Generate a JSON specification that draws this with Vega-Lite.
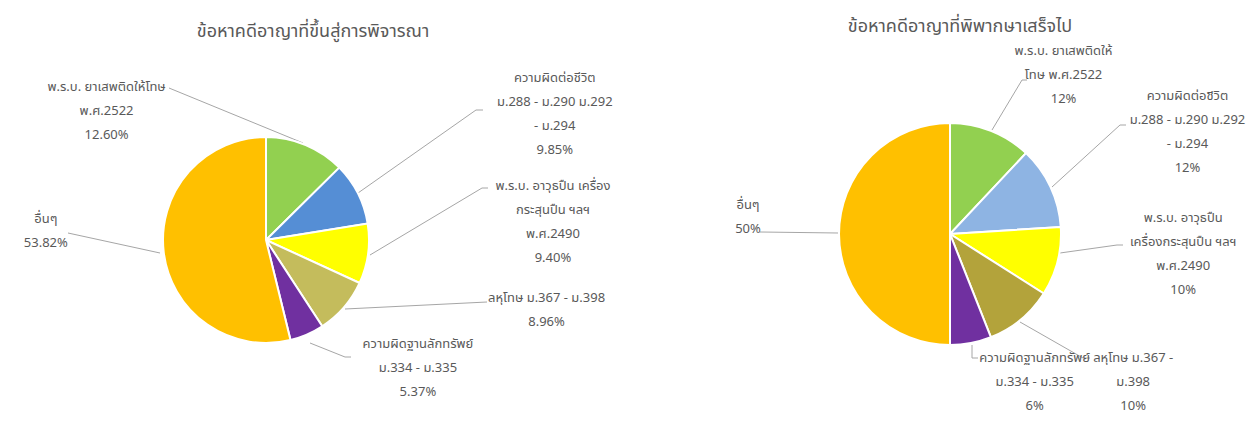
{
  "$schema": "https://vega.github.io/schema/vega-lite/v6.json",
  "width": 1258,
  "height": 421,
  "autosize": {"type": "none"},
  "padding": 0,
  "background": "#ffffff",
  "config": {
    "view": {"stroke": null},
    "text": {"font": "Tahoma, 'Noto Sans Thai', 'Noto Sans', sans-serif", "fontSize": 13, "color": "#595959", "lineBreak": "\n", "lineHeight": 24, "align": "center", "baseline": "middle"},
    "rule": {"color": "#A6A6A6", "strokeWidth": 1}
  },
  "data": {"values": [
    {"chart": "left", "i": 1, "k": "L1", "value": 12.6, "label": "พ.ร.บ. ยาเสพติดให้โทษ\nพ.ศ.2522\n12.60%"},
    {"chart": "left", "i": 2, "k": "L2", "value": 9.85, "label": "ความผิดต่อชีวิต\nม.288 - ม.290 ม.292\n- ม.294\n9.85%"},
    {"chart": "left", "i": 3, "k": "L3", "value": 9.4, "label": "พ.ร.บ. อาวุธปืน เครื่อง\nกระสุนปืน ฯลฯ\nพ.ศ.2490\n9.40%"},
    {"chart": "left", "i": 4, "k": "L4", "value": 8.96, "label": "ลหุโทษ ม.367 - ม.398\n8.96%"},
    {"chart": "left", "i": 5, "k": "L5", "value": 5.37, "label": "ความผิดฐานลักทรัพย์\nม.334 - ม.335\n5.37%"},
    {"chart": "left", "i": 6, "k": "L6", "value": 53.82, "label": "อื่นๆ\n53.82%"},
    {"chart": "right", "i": 1, "k": "R1", "value": 12, "label": "พ.ร.บ. ยาเสพติดให้\nโทษ พ.ศ.2522\n12%"},
    {"chart": "right", "i": 2, "k": "R2", "value": 12, "label": "ความผิดต่อชีวิต\nม.288 - ม.290 ม.292\n- ม.294\n12%"},
    {"chart": "right", "i": 3, "k": "R3", "value": 10, "label": "พ.ร.บ. อาวุธปืน\nเครื่องกระสุนปืน ฯลฯ\nพ.ศ.2490\n10%"},
    {"chart": "right", "i": 4, "k": "R4", "value": 10, "label": "ลหุโทษ ม.367 -\nม.398\n10%"},
    {"chart": "right", "i": 5, "k": "R5", "value": 6, "label": "ความผิดฐานลักทรัพย์\nม.334 - ม.335\n6%"},
    {"chart": "right", "i": 6, "k": "R6", "value": 50, "label": "อื่นๆ\n50%"}
  ]},
  "encoding": {
    "x": {"field": "chart", "type": "nominal", "scale": {"type": "point", "domain": ["left", "right"], "range": [266, 950], "padding": 0}, "axis": null},
    "y": {"field": "chart", "type": "nominal", "scale": {"type": "point", "domain": ["left", "right"], "range": [240, 234], "padding": 0}, "axis": null}
  },
  "layer": [
    {"transform": [{"filter": "datum.k == 'L1'"}], "mark": {"type": "rule", "xOffset": -97, "yOffset": -152, "x2Offset": 37, "y2Offset": -97}, "encoding": {"x2": {"field": "chart"}, "y2": {"field": "chart"}}},
    {"transform": [{"filter": "datum.k == 'L2'"}], "mark": {"type": "rule", "xOffset": 217, "yOffset": -130, "x2Offset": 210, "y2Offset": -130}, "encoding": {"x2": {"field": "chart"}, "y2": {"field": "chart"}}},
    {"transform": [{"filter": "datum.k == 'L2'"}], "mark": {"type": "rule", "xOffset": 210, "yOffset": -130, "x2Offset": 92, "y2Offset": -47}, "encoding": {"x2": {"field": "chart"}, "y2": {"field": "chart"}}},
    {"transform": [{"filter": "datum.k == 'L3'"}], "mark": {"type": "rule", "xOffset": 222, "yOffset": -52, "x2Offset": 216, "y2Offset": -52}, "encoding": {"x2": {"field": "chart"}, "y2": {"field": "chart"}}},
    {"transform": [{"filter": "datum.k == 'L3'"}], "mark": {"type": "rule", "xOffset": 216, "yOffset": -52, "x2Offset": 104, "y2Offset": 15}, "encoding": {"x2": {"field": "chart"}, "y2": {"field": "chart"}}},
    {"transform": [{"filter": "datum.k == 'L4'"}], "mark": {"type": "rule", "xOffset": 221, "yOffset": 62, "x2Offset": 79, "y2Offset": 69}, "encoding": {"x2": {"field": "chart"}, "y2": {"field": "chart"}}},
    {"transform": [{"filter": "datum.k == 'L5'"}], "mark": {"type": "rule", "xOffset": 44, "yOffset": 103, "x2Offset": 79, "y2Offset": 117}, "encoding": {"x2": {"field": "chart"}, "y2": {"field": "chart"}}},
    {"transform": [{"filter": "datum.k == 'L5'"}], "mark": {"type": "rule", "xOffset": 79, "yOffset": 117, "x2Offset": 85, "y2Offset": 117}, "encoding": {"x2": {"field": "chart"}, "y2": {"field": "chart"}}},
    {"transform": [{"filter": "datum.k == 'L6'"}], "mark": {"type": "rule", "xOffset": -198, "yOffset": -7, "x2Offset": -106, "y2Offset": 13}, "encoding": {"x2": {"field": "chart"}, "y2": {"field": "chart"}}},
    {"transform": [{"filter": "datum.k == 'R1'"}], "mark": {"type": "rule", "xOffset": 42, "yOffset": -104, "x2Offset": 72, "y2Offset": -154}, "encoding": {"x2": {"field": "chart"}, "y2": {"field": "chart"}}},
    {"transform": [{"filter": "datum.k == 'R1'"}], "mark": {"type": "rule", "xOffset": 72, "yOffset": -154, "x2Offset": 77, "y2Offset": -154}, "encoding": {"x2": {"field": "chart"}, "y2": {"field": "chart"}}},
    {"transform": [{"filter": "datum.k == 'R2'"}], "mark": {"type": "rule", "xOffset": 102, "yOffset": -47, "x2Offset": 170, "y2Offset": -109}, "encoding": {"x2": {"field": "chart"}, "y2": {"field": "chart"}}},
    {"transform": [{"filter": "datum.k == 'R2'"}], "mark": {"type": "rule", "xOffset": 170, "yOffset": -109, "x2Offset": 176, "y2Offset": -109}, "encoding": {"x2": {"field": "chart"}, "y2": {"field": "chart"}}},
    {"transform": [{"filter": "datum.k == 'R3'"}], "mark": {"type": "rule", "xOffset": 110, "yOffset": 19, "x2Offset": 167, "y2Offset": 11}, "encoding": {"x2": {"field": "chart"}, "y2": {"field": "chart"}}},
    {"transform": [{"filter": "datum.k == 'R3'"}], "mark": {"type": "rule", "xOffset": 167, "yOffset": 11, "x2Offset": 173, "y2Offset": 11}, "encoding": {"x2": {"field": "chart"}, "y2": {"field": "chart"}}},
    {"transform": [{"filter": "datum.k == 'R4'"}], "mark": {"type": "rule", "xOffset": 70, "yOffset": 88, "x2Offset": 133, "y2Offset": 124}, "encoding": {"x2": {"field": "chart"}, "y2": {"field": "chart"}}},
    {"transform": [{"filter": "datum.k == 'R4'"}], "mark": {"type": "rule", "xOffset": 133, "yOffset": 124, "x2Offset": 140, "y2Offset": 124}, "encoding": {"x2": {"field": "chart"}, "y2": {"field": "chart"}}},
    {"transform": [{"filter": "datum.k == 'R5'"}], "mark": {"type": "rule", "xOffset": 22, "yOffset": 111, "x2Offset": 22, "y2Offset": 124}, "encoding": {"x2": {"field": "chart"}, "y2": {"field": "chart"}}},
    {"transform": [{"filter": "datum.k == 'R5'"}], "mark": {"type": "rule", "xOffset": 22, "yOffset": 124, "x2Offset": 28, "y2Offset": 124}, "encoding": {"x2": {"field": "chart"}, "y2": {"field": "chart"}}},
    {"transform": [{"filter": "datum.k == 'R6'"}], "mark": {"type": "rule", "xOffset": -190, "yOffset": -2, "x2Offset": -112, "y2Offset": -1}, "encoding": {"x2": {"field": "chart"}, "y2": {"field": "chart"}}},
    {
      "transform": [{"filter": "datum.chart == 'left'"}],
      "encoding": {
        "theta": {"field": "value", "type": "quantitative", "stack": true, "scale": {"domain": [0, 100]}},
        "order": {"field": "i", "type": "quantitative", "sort": "ascending"}
      },
      "layer": [
        {
          "mark": {"type": "arc", "outerRadius": 103, "stroke": "#ffffff", "strokeWidth": 2},
          "encoding": {"color": {"field": "k", "type": "nominal", "legend": null,
            "scale": {"domain": ["L1","L2","L3","L4","L5","L6","R1","R2","R3","R4","R5","R6"],
                      "range": ["#92D050","#558ED5","#FFFF00","#C4BC5C","#7030A0","#FFC000","#92D050","#8EB4E3","#FFFF00","#B3A33B","#7030A0","#FFC000"]}}}
        },
        {"mark": {"type": "text", "radius": 113, "dx": -203, "dy": -49}, "encoding": {"text": {"condition": {"test": "datum.i == 1", "field": "label"}, "value": ""}}},
        {"mark": {"type": "text", "radius": 113, "dx": 188, "dy": -111}, "encoding": {"text": {"condition": {"test": "datum.i == 2", "field": "label"}, "value": ""}}},
        {"mark": {"type": "text", "radius": 113, "dx": 175, "dy": -69}, "encoding": {"text": {"condition": {"test": "datum.i == 3", "field": "label"}, "value": ""}}},
        {"mark": {"type": "text", "radius": 113, "dx": 195, "dy": -16}, "encoding": {"text": {"condition": {"test": "datum.i == 4", "field": "label"}, "value": ""}}},
        {"mark": {"type": "text", "radius": 113, "dx": 107, "dy": 0}, "encoding": {"text": {"condition": {"test": "datum.i == 5", "field": "label"}, "value": ""}}},
        {"mark": {"type": "text", "radius": 113, "dx": -108, "dy": -35}, "encoding": {"text": {"condition": {"test": "datum.i == 6", "field": "label"}, "value": ""}}}
      ]
    },
    {
      "transform": [{"filter": "datum.chart == 'right'"}],
      "encoding": {
        "theta": {"field": "value", "type": "quantitative", "stack": true, "scale": {"domain": [0, 100]}},
        "order": {"field": "i", "type": "quantitative", "sort": "ascending"}
      },
      "layer": [
        {
          "mark": {"type": "arc", "outerRadius": 111, "stroke": "#ffffff", "strokeWidth": 2},
          "encoding": {"color": {"field": "k", "type": "nominal", "legend": null}}
        },
        {"mark": {"type": "text", "radius": 121, "dx": 69, "dy": -70}, "encoding": {"text": {"condition": {"test": "datum.i == 1", "field": "label"}, "value": ""}}},
        {"mark": {"type": "text", "radius": 121, "dx": 128, "dy": -86}, "encoding": {"text": {"condition": {"test": "datum.i == 2", "field": "label"}, "value": ""}}},
        {"mark": {"type": "text", "radius": 121, "dx": 116, "dy": -46}, "encoding": {"text": {"condition": {"test": "datum.i == 3", "field": "label"}, "value": ""}}},
        {"mark": {"type": "text", "radius": 121, "dx": 106, "dy": 31}, "encoding": {"text": {"condition": {"test": "datum.i == 4", "field": "label"}, "value": ""}}},
        {"mark": {"type": "text", "radius": 121, "dx": 62, "dy": 5}, "encoding": {"text": {"condition": {"test": "datum.i == 5", "field": "label"}, "value": ""}}},
        {"mark": {"type": "text", "radius": 121, "dx": -81, "dy": -29}, "encoding": {"text": {"condition": {"test": "datum.i == 6", "field": "label"}, "value": ""}}}
      ]
    },
    {
      "data": {"values": [{"chart": "left", "title": "ข้อหาคดีอาญาที่ขึ้นสู่การพิจารณา"}]},
      "mark": {"type": "text", "fontSize": 18, "dx": 47, "dy": -208},
      "encoding": {"text": {"field": "title", "type": "nominal"}}
    },
    {
      "data": {"values": [{"chart": "right", "title": "ข้อหาคดีอาญาที่พิพากษาเสร็จไป"}]},
      "mark": {"type": "text", "fontSize": 18, "dx": 10, "dy": -207},
      "encoding": {"text": {"field": "title", "type": "nominal"}}
    }
  ]
}
